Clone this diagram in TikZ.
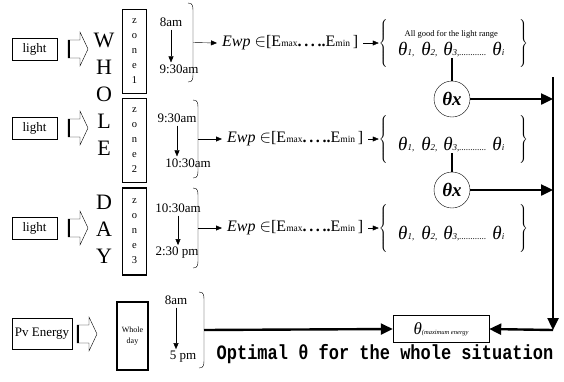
\documentclass[tikz,border=0pt]{standalone}
\usepackage{fontspec}
\setmainfont{Liberation Serif}
\setmonofont{Liberation Mono}
\usetikzlibrary{arrows.meta, positioning}

% hollow block arrow, left end at (x,y)
\newcommand{\hollowarrow}[2]{%
  \draw (#1,#2-9) -- ++(12,0) -- ++(0,-8) -- ++(8,17) -- ++(-8,17) -- ++(0,-8) -- ++(-12,0) -- cycle;
  \draw[line width=2pt] (#1+1,#2-9) -- (#1+1,#2+9);}
% right brace of a time span: name, x, top, bottom
\newcommand{\timebrace}[4]{%
  \draw (#2,#3) .. controls (#2+5,#3) and (#2+5,#3+3) .. (#2+5,#3+9)
    -- (#2+5,#4-9) .. controls (#2+5,#4-3) and (#2+5,#4) .. (#2,#4);
  \coordinate (#1) at (#2+5,{(#3+#4)/2});}
\newcommand{\bracestrut}{\vrule height 19pt depth 19pt width 0pt}
\newcommand{\thsub}[1]{{\fontsize{9}{9}\selectfont\itshape #1}}
\newcommand{\thlist}{\textit{θ}\thsub{1,}\hspace{7pt}\textit{θ}\thsub{2,}\hspace{6pt}\textit{θ}\thsub{3,............}\hspace{6pt}\textit{θ}\thsub{i}}
\newcommand{\ewprange}{\textit{Ewp} $\in$[E{\fontsize{9.5}{9.5}\selectfont max}{\bfseries .\,.\,.\,..}E{\fontsize{9.5}{9.5}\selectfont min}\,]}

\begin{document}
\begin{tikzpicture}[x=1pt, y=-1pt,
    lightbox/.style={draw, rectangle, minimum width=45pt, minimum height=22pt, inner sep=1pt, font=\fontsize{13}{13}\selectfont},
    zonebox/.style={draw, line width=1.8pt, minimum width=24pt, minimum height=84pt, inner sep=0pt, align=center, font=\fontsize{10.5}{15}\selectfont},
    bigletter/.style={inner sep=0pt, font=\fontsize{22}{22}\selectfont},
    timetext/.style={inner sep=0pt, font=\fontsize{13}{13}\selectfont},
    timearrow/.style={->, shorten <=3pt, shorten >=2pt},
    rangetext/.style={anchor=west, inner xsep=5pt, inner ysep=0pt, font=\fontsize{16}{16}\selectfont},
    setbrace/.style={inner sep=0pt, font=\fontsize{17}{17}\selectfont},
    thetalist/.style={anchor=west, inner sep=0pt, font=\fontsize{19}{19}\selectfont},
    note/.style={inner sep=0pt, font=\fontsize{8.5}{8.5}\selectfont},
    thetax/.style={draw, circle, minimum size=36pt, inner sep=0pt, font=\fontsize{19}{19}\selectfont\bfseries\itshape},
    bus/.style={line width=2.4pt},
    busarrow/.style={bus, -{Triangle[length=12pt, width=11pt]}},
    >={Triangle[length=6pt, width=5pt]}]
  \useasboundingbox (0,0) rectangle (564,381);

  % inputs
  \node[lightbox] (light1) at (34.5,49) {light};
  \node[lightbox] (light2) at (34.5,128) {light};
  \node[lightbox] (light3) at (34.5,228) {light};
  \node[lightbox, minimum width=60pt, minimum height=31pt] (pv) at (42,334) {Pv Energy};
  \foreach \x/\y in {68/49, 68/128, 68/228, 77/334}
    \hollowarrow{\x}{\y};

  % WHOLE DAY and the zones
  \foreach \ch/\y in {W/40, H/67, O/94, L/121, E/148, D/202, A/229, Y/256}
    \node[bigletter] (l\ch) at (104,\y) {\ch};
  \node[zonebox] (zone1) at (134.5,51.5) {z\\o\\n\\e\\1};
  \node[zonebox] (zone2) at (134.5,140.5) {z\\o\\n\\e\\2};
  \node[zonebox, minimum height=87pt] (zone3) at (134.5,231.5) {z\\o\\n\\e\\3};
  \node[zonebox, minimum width=31pt, minimum height=68pt, font=\fontsize{8}{11}\selectfont] (wholeday) at (132.5,336) {Whole\\day};

  % time spans
  \node[timetext] (t1a) at (171,22) {8am};
  \node[timetext] (t1b) at (179,69) {9:30am};
  \node[timetext] (t2a) at (177,118) {9:30am};
  \node[timetext] (t2b) at (188,163) {10:30am};
  \node[timetext] (t3a) at (178,208) {10:30am};
  \node[timetext] (t3b) at (177,253) {2:30 pm};
  \node[timetext] (t4a) at (176,300) {8am};
  \node[timetext] (t4b) at (183,357) {5 pm};
  \foreach \r in {1,2,3,4}
    \draw[timearrow] (t\r a.south) -- (t\r a.south |- t\r b.north);
  \timebrace{b1}{188}{3}{82}
  \timebrace{b2}{193}{100}{178}
  \timebrace{b3}{193}{188}{268}
  \timebrace{b4}{199}{292}{368}

  % energy ranges
  \node[rangetext] (ewp1) at (217,43) {\ewprange};
  \node[rangetext] (ewp2) at (222,139) {\ewprange};
  \node[rangetext] (ewp3) at (222,228) {\ewprange};
  \draw[->] (b1) -- (ewp1.west);
  \draw[->] (b2) -- (ewp2.west);
  \draw[->] (b3) -- (ewp3.west);

  % theta sets
  \node[setbrace] (lb1) at (384,43) {$\left\{\bracestrut\right.$};
  \node[setbrace] (lb2) at (384,139) {$\left\{\bracestrut\right.$};
  \node[setbrace] (lb3) at (384,228) {$\left\{\bracestrut\right.$};
  \node[setbrace] (rb1) at (523,43) {$\left.\bracestrut\right\}$};
  \node[setbrace] (rb2) at (523,139) {$\left.\bracestrut\right\}$};
  \node[setbrace] (rb3) at (523,228) {$\left.\bracestrut\right\}$};
  \draw[->] (ewp1.east) -- (lb1.west);
  \draw[->] (ewp2.east) -- (lb2.west);
  \draw[->] (ewp3.east) -- (lb3.west);
  \node[thetalist] (list1) at (398,50) {\thlist};
  \node[thetalist] (list2) at (398,145) {\thlist};
  \node[thetalist] (list3) at (398,234) {\thlist};
  \node[note, above=4pt of list1] (good) {All good for the light range};

  % selection
  \node[thetax] (tx1) at (452,99) {θx};
  \node[thetax] (tx2) at (452,190) {θx};
  \draw[bus] (tx1) -- (tx1 |- list1.south);
  \draw[bus] (tx2) -- (tx2 |- list2.south);
  \coordinate (bustop) at (553,77);
  \coordinate (buscorner) at (553,330);
  \draw[busarrow] (bustop) -- (buscorner);
  \draw[busarrow] (tx1) -- (tx1 -| bustop);
  \draw[busarrow] (tx2) -- (tx2 -| bustop);

  % result
  \node[draw, minimum width=96pt, minimum height=27pt, inner sep=1pt] (opt) at (441,329)
    {\fontsize{17}{17}\selectfont\textit{θ}{\fontsize{6.5}{6.5}\selectfont\itshape (maximum energy}};
  \draw[busarrow] (buscorner) -- (opt.east);
  \draw[busarrow] (b4) -- (opt.west);
  \node[inner sep=0pt, font=\fontsize{17}{17}\selectfont\ttfamily\bfseries] (caption) at (385,354)
    {\scalebox{1}[1.2]{Optimal θ for the whole situation}};
\end{tikzpicture}
\end{document}
